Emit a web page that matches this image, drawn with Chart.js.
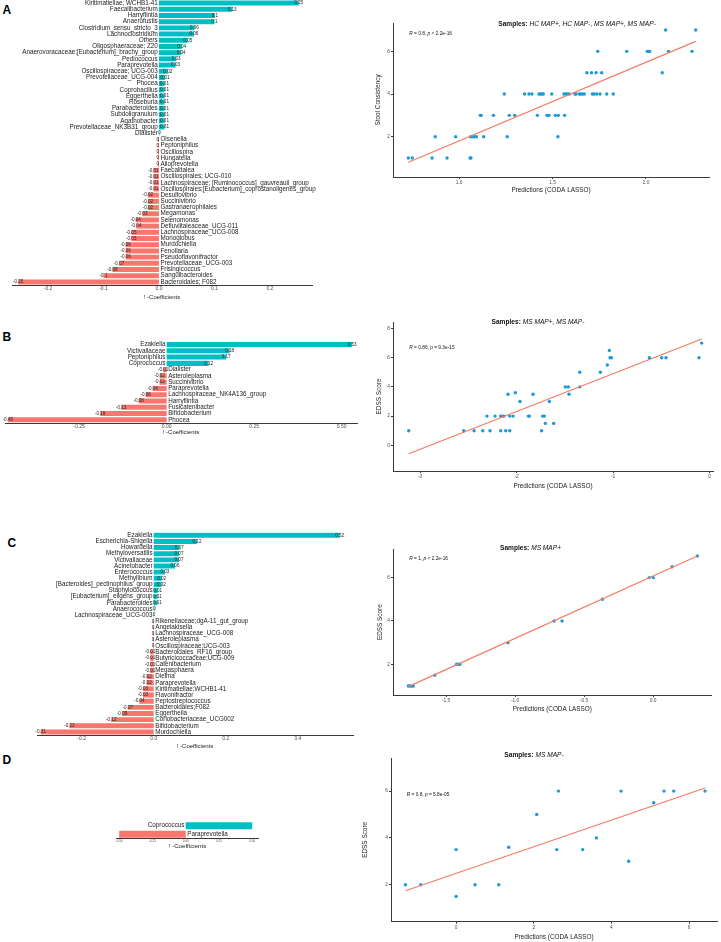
<!DOCTYPE html>
<html>
<head>
<meta charset="utf-8">
<title>CODA LASSO coefficients and predictions</title>
<script src="https://cdn.jsdelivr.net/npm/chart.js@4.4.0/dist/chart.umd.min.js"></script>
<style>
body { margin: 0; background: #fff; }
#page { position: relative; width: 721px; height: 942px; overflow: hidden; }
#page canvas { position: absolute; }
.tag { position: absolute; font: bold 12px "Liberation Sans", Arial, sans-serif; line-height: 12px; color: #000; }
</style>
</head>
<body>
<div id="page">
    <div class="tag" style="left:2.5px;top:3.5px">A</div>
    <div class="tag" style="left:2.5px;top:330.5px">B</div>
    <div class="tag" style="left:7.5px;top:536.5px">C</div>
    <div class="tag" style="left:2.5px;top:753.5px">D</div>
</div>
<script>
// ---- panel A: coefficients ----
var aBarLabels = ['Kiritimatiellae; WCHB1-41', 'Faecalibacterium', 'Harryflintia', 'Anaerofustis', 'Clostridium_sensu_stricto_3',
    'Lachnoclostridium', 'Others', 'Oligosphaeraceae; Z20', 'Anaerovoracaceae;[Eubacterium]_brachy_group', 'Pediococcus',
    'Paraprevotella', 'Oscillospiraceae; UCG-003', 'Prevotellaceae_UCG-004', 'Phocea', 'Coprobacillus', 'Eggerthella',
    'Roseburia', 'Parabacteroides', 'Subdoligranulum', 'Agathobacter', 'Prevotellaceae_NK3B31_group', 'Dialister',
    'Olsenella', 'Peptoniphilus', 'Oscillospira', 'Hungatella', 'Alloprevotella', 'Faecalitalea', 'Oscillospirales; UCG-010',
    'Lachnospiraceae; [Ruminococcus]_gauvreauii_group', 'Oscillospirales;[Eubacterium]_coprostanoligenes_group',
    'Desulfovibrio', 'Succinivibrio', 'Gastranaerophilales', 'Megamonas', 'Selenomonas', 'Defluviitaleaceae_UCG-011',
    'Lachnospiraceae_UCG-008', 'Monoglobus', 'Murdochiella', 'Fenollaria', 'Pseudoflavonifractor', 'Prevotellaceae_UCG-003',
    'Frisingicoccus', 'Sanguibacteroides', 'Bacteroidales; F082'];
var aBarValues = [0.252, 0.132, 0.101, 0.1, 0.064, 0.063, 0.052, 0.041, 0.04, 0.031, 0.03, 0.016, 0.011, 0.01, 0.01, 0.01,
    0.01, 0.01, 0.01, 0.01, 0.01, 0.001, -0.002, -0.002, -0.002, -0.002, -0.002, -0.01, -0.01, -0.01, -0.01, -0.02, -0.02,
    -0.02, -0.03, -0.042, -0.041, -0.05, -0.05, -0.06, -0.06, -0.06, -0.072, -0.084, -0.1, -0.254];
var aBarTicks = [-0.2, -0.1, 0, 0.1, 0.2];

// ---- panel A: predictions vs stool consistency ----
var aPredX = [0.729, 0.750, 0.856, 0.873, 0.936, 0.982, 1.059, 1.064, 1.062, 1.071, 1.082, 1.093, 1.114, 1.119, 1.132, 1.184,
    1.242, 1.258, 1.269, 1.298, 1.351, 1.374, 1.390, 1.419, 1.428, 1.435, 1.444, 1.451, 1.470, 1.481, 1.496, 1.515, 1.531,
    1.529, 1.565, 1.561, 1.570, 1.578, 1.590, 1.620, 1.626, 1.643, 1.651, 1.661, 1.670, 1.684, 1.709, 1.713, 1.722, 1.736,
    1.733, 1.742, 1.754, 1.763, 1.790, 1.825, 1.897, 2.007, 2.014, 2.020, 2.087, 2.105, 2.121, 2.246, 2.266];
var aScoreY = [1, 1, 1, 2, 1, 2, 1, 1, 2, 2, 2, 2, 3, 3, 2, 3, 4, 2, 3, 3, 4, 4, 4, 3, 4, 4, 4, 4, 3, 3, 4, 3, 3, 2, 3, 4, 4,
    4, 4, 4, 4, 4, 4, 4, 4, 5, 5, 4, 4, 4, 5, 6, 4, 5, 4, 4, 6, 6, 6, 6, 5, 7, 6, 6, 7];
var aFitX = [0.729, 2.266];
var aFitY = [0.80, 6.47];
var aScatXTicks = [1.0, 1.5, 2.0];
var aScatYTicks = [2, 4, 6];

// ---- panel B ----
var bBarLabels = ['Ezakiella', 'Victivallaceae', 'Peptoniphilus', 'Coprococcus', 'Dialister', 'Asteroleplasma', 'Succinivibrio',
    'Paraprevotella', 'Lachnospiraceae_NK4A136_group', 'Harryflintia', 'Fusicatenibacter', 'Bifidobacterium', 'Phocea'];
var bBarValues = [0.53, 0.18, 0.17, 0.12, -0.01, -0.02, -0.02, -0.04, -0.06, -0.08, -0.13, -0.19, -0.454];
var bBarTicks = [-0.25, 0, 0.25, 0.5];

var bPredX = [-3.117, -2.547, -2.440, -2.350, -2.306, -2.275, -2.223, -2.164, -2.164, -2.143, -2.130, -2.112, -2.070, -2.088,
    -2.070, -2.036, -2.012, -1.964, -1.877, -1.867, -1.829, -1.740, -1.729, -1.712, -1.701, -1.660, -1.615, -1.494, -1.463,
    -1.456, -1.345, -1.345, -1.131, -1.059, -1.038, -1.031, -1.017, -0.623, -0.496, -0.451, -0.109, -0.081];
var bScoreY = [1, 1, 1, 1, 2, 1, 2, 1, 2, 2, 2, 1, 1, 3.5, 2, 2, 3.6, 3, 2, 2, 3.5, 1, 2, 2, 1.5, 3, 1.5, 4, 4, 3.5, 4, 5, 5,
    5.5, 6.5, 6, 6, 6, 6, 6, 6, 7];
var bFitX = [-3.117, -0.081];
var bFitY = [-0.58, 7.28];
var bScatXTicks = [-3, -2, -1, 0];
var bScatYTicks = [0, 2, 4, 6, 8];

// ---- panel C ----
var cBarLabels = ['Ezakiella', 'Escherichia-Shigella', 'Howardella', 'Methyloversatilis', 'Victivallaceae', 'Acinetobacter',
    'Enterococcus', 'Methylibium', '[Bacteroides]_pectinophilus_group', 'Staphylococcus', '[Eubacterium]_eligens_group',
    'Parabacteroides', 'Anaerococcus', 'Lachnospiraceae_UCG-003', 'Rikenellaceae;dgA-11_gut_group', 'Angelakisella',
    'Lachnospiraceae_UCG-008', 'Asteroleplasma', 'Oscillospiraceae;UCG-003', 'Bacteroidales_RF16_group',
    'Butyricicoccaceae;UCG-009', 'Catenibacterium', 'Megasphaera', 'Dielma', 'Paraprevotella', 'Kiritimatiellae;WCHB1-41',
    'Flavonifractor', 'Peptostreptococcus', 'Bacteroidales;F082', 'Eggerthella', 'Coriobacteriaceae_UCG002',
    'Bifidobacterium', 'Murdochiella'];
var cBarValues = [0.516, 0.12, 0.071, 0.07, 0.07, 0.059, 0.031, 0.022, 0.021, 0.011, 0.01, 0.01, 0.002, 0.001, -0.002, -0.002,
    -0.002, -0.002, -0.002, -0.01, -0.01, -0.01, -0.01, -0.02, -0.02, -0.03, -0.03, -0.04, -0.072, -0.088, -0.118, -0.234, -0.314];
var cBarTicks = [-0.2, 0, 0.2, 0.4];

var cPredX = [-1.773, -1.761, -1.749, -1.737, -1.582, -1.423, -1.411, -1.399, -1.051, -0.717, -0.659, -0.367, -0.027, 0.002,
    0.138, 0.321];
var cScoreY = [1, 1, 1, 1, 1.5, 2, 2, 2, 3, 4, 4, 5, 6, 6, 6.5, 7];
var cFitX = [-1.773, 0.321];
var cFitY = [0.97, 7.0];
var cScatXTicks = [-1.5, -1.0, -0.5, 0.0];
var cScatYTicks = [2, 4, 6];

// ---- panel D ----
var dBarLabels = ['Coprococcus', 'Paraprevotella'];
var dBarValues = [0.5, -0.5];
var dBarTicks = [-0.5, -0.25, 0, 0.25, 0.5];

var dPredX = [-1.305, -0.910, 0, 0, 0.489, 1.099, 1.356, 2.077, 2.592, 2.635, 3.262, 3.614, 4.249, 4.446, 5.090, 5.356, 5.605, 6.412];
var dScoreY = [2, 2, 3.5, 1.5, 2, 2, 3.6, 5, 3.5, 6, 3.5, 4, 6, 3, 5.5, 6, 6, 6];
var dFitX = [-1.305, 6.412];
var dFitY = [1.74, 6.13];
var dScatXTicks = [0, 2, 4, 6];
var dScatYTicks = [2, 4, 6];

// ---- drawing ----
var FAMILY = '"Liberation Sans", Arial, Helvetica, sans-serif';
var POS = '#00BFC4', NEG = '#F8766D', DOT = '#1b9ad6', FIT = '#f77a61';
var INK = '#222', AXIS = '#3a3a3a', TICK = '#4d4d4d';
Chart.defaults.font.family = FAMILY;

function addCanvas(id, r) {
    var c = document.createElement('canvas');
    c.id = id;
    c.width = r.w;
    c.height = r.h;
    c.style.left = r.x + 'px';
    c.style.top = r.y + 'px';
    c.style.width = r.w + 'px';
    c.style.height = r.h + 'px';
    document.getElementById('page').appendChild(c);
    return c;
}

function fmtValue(v) {
    var r = Math.round(v * 100) / 100;
    return r === 0 ? '0' : String(r);
}

// taxon names next to the zero line and coefficient values at bar ends
var barText = {
    id: 'barText',
    afterDatasetsDraw: function(chart, args, o) {
        var ctx = chart.ctx;
        var zero = chart.scales.x.getPixelForValue(0);
        var labels = chart.data.labels, vals = chart.data.datasets[0].data;
        ctx.save();
        ctx.fillStyle = INK;
        ctx.textBaseline = 'middle';
        chart.getDatasetMeta(0).data.forEach(function(bar, i) {
            var v = vals[i];
            ctx.font = (labels[i] === 'Others' ? 'italic ' : '') + '6.3px ' + FAMILY;
            ctx.textAlign = v >= 0 ? 'right' : 'left';
            ctx.fillText(labels[i], v >= 0 ? zero - 1.2 : zero + 1.5, bar.y);
            if (o.values) {
                ctx.font = '4.6px ' + FAMILY;
                ctx.textAlign = 'center';
                ctx.fillText(fmtValue(v), bar.x, bar.y);
            }
        });
        ctx.restore();
    }
};

function drawRuns(ctx, runs, x, y, size) {
    runs.forEach(function(r) {
        ctx.font = r[0] + ' ' + size + 'px ' + FAMILY;
        ctx.fillText(r[1], x, y);
        x += ctx.measureText(r[1]).width;
    });
}

// panel title + correlation note
var scatterText = {
    id: 'scatterText',
    afterDraw: function(chart, args, o) {
        var ctx = chart.ctx;
        ctx.save();
        ctx.fillStyle = '#111';
        ctx.textBaseline = 'middle';
        ctx.textAlign = 'left';
        ctx.font = 'bold 6.6px ' + FAMILY;
        var w1 = ctx.measureText(o.head).width;
        ctx.font = 'italic 6.6px ' + FAMILY;
        var w2 = ctx.measureText(o.rest).width;
        var tx = o.titleX - o.rect.x - (w1 + w2) / 2;
        drawRuns(ctx, [['bold', o.head], ['italic', o.rest]], tx, o.titleY - o.rect.y, 6.6);
        drawRuns(ctx, [['italic', 'R'], ['normal', ' = ' + o.noteR + ', '], ['italic', 'p'], ['normal', ' ' + o.noteP]],
            o.noteX - o.rect.x, o.noteY - o.rect.y, 4.8);
        ctx.restore();
    }
};

function barChart(id, rect, area, labels, values, xMin, xMax, ticks, dec, tickSize, titleY, titleSize, showValues) {
    var cv = addCanvas(id, rect);
    var lh = titleSize * 1.2;
    new Chart(cv, {
        type: 'bar',
        data: {
            labels: labels,
            datasets: [{
                data: values,
                backgroundColor: values.map(function(v) { return v >= 0 ? POS : NEG; }),
                barPercentage: 0.8,
                categoryPercentage: 1
            }]
        },
        options: {
            indexAxis: 'y',
            responsive: false,
            animation: false,
            devicePixelRatio: 1,
            layout: { padding: { left: area.l - rect.x, right: rect.x + rect.w - area.r, top: area.t - rect.y, bottom: 0 } },
            plugins: { legend: { display: false }, tooltip: { enabled: false }, barText: { values: showValues } },
            scales: {
                y: { type: 'category', display: false },
                x: {
                    type: 'linear', min: xMin, max: xMax,
                    afterBuildTicks: function(s) { s.ticks = ticks.map(function(v) { return { value: v }; }); },
                    afterFit: function(s) { s.height = rect.y + rect.h - area.b; },
                    grid: { display: false, drawTicks: false },
                    border: { display: true, color: AXIS, width: 1 },
                    ticks: {
                        font: { size: tickSize }, color: TICK, padding: 1, maxRotation: 0, minRotation: 0, autoSkip: false,
                        callback: function(v) { return Number(v).toFixed(dec); }
                    },
                    title: {
                        display: true, text: '! -Coefficients', color: INK, font: { size: titleSize },
                        padding: { top: 0, bottom: rect.y + rect.h - titleY - lh / 2 }
                    }
                }
            }
        },
        plugins: [barText]
    });
}

function scatterChart(o) {
    var r = o.rect, a = o.area;
    var cv = addCanvas(o.id, r);
    var lh = 6.4 * 1.2;
    var pts = o.xs.map(function(x, i) { return { x: x, y: o.ys[i] }; });
    var fit = o.fx.map(function(x, i) { return { x: x, y: o.fy[i] }; });
    new Chart(cv, {
        type: 'scatter',
        data: {
            datasets: [
                { data: fit, showLine: true, borderColor: FIT, borderWidth: 1.2, pointRadius: 0 },
                { data: pts, pointRadius: 1.7, pointBackgroundColor: DOT, pointBorderWidth: 0 }
            ]
        },
        options: {
            responsive: false,
            animation: false,
            devicePixelRatio: 1,
            layout: { padding: { left: 0, top: a.t - r.y, right: r.x + r.w - a.r, bottom: 0 } },
            plugins: { legend: { display: false }, tooltip: { enabled: false }, scatterText: o },
            scales: {
                x: {
                    type: 'linear', min: o.xMin, max: o.xMax,
                    afterBuildTicks: function(s) { s.ticks = o.xTicks.map(function(v) { return { value: v }; }); },
                    afterFit: function(s) { s.height = r.y + r.h - a.b; },
                    grid: { display: true, drawOnChartArea: false, drawTicks: true, tickLength: 2, color: AXIS },
                    border: { display: true, color: AXIS, width: 1 },
                    ticks: {
                        font: { size: 4.8 }, color: TICK, padding: 1, maxRotation: 0, minRotation: 0, autoSkip: false,
                        callback: function(v) { return Number(v).toFixed(o.xDec); }
                    },
                    title: {
                        display: true, text: 'Predictions (CODA LASSO)', color: INK, font: { size: 6.4 },
                        padding: { top: 0, bottom: r.y + r.h - o.xTitleY - lh / 2 }
                    }
                },
                y: {
                    type: 'linear', min: o.yMin, max: o.yMax,
                    afterBuildTicks: function(s) { s.ticks = o.yTicks.map(function(v) { return { value: v }; }); },
                    afterFit: function(s) { s.width = a.l - r.x; },
                    grid: { display: true, drawOnChartArea: false, drawTicks: true, tickLength: 2, color: AXIS },
                    border: { display: true, color: AXIS, width: 1 },
                    ticks: { font: { size: 4.8 }, color: TICK, padding: 1, autoSkip: false },
                    title: {
                        display: true, text: o.yTitle, color: INK, font: { size: 6.4 },
                        padding: { top: o.yTitleX - r.x - lh / 2, bottom: 0 }
                    }
                }
            }
        },
        plugins: [scatterText]
    });
}

barChart('bar-a', { x: 0, y: 0, w: 360, h: 302 }, { l: 12, t: 0, r: 312, b: 285 }, aBarLabels, aBarValues,
    -0.265, 0.276, aBarTicks, 1, 5, 297.3, 6, true);
barChart('bar-b', { x: 0, y: 330, w: 360, h: 107 }, { l: 5, t: 341.4, r: 357, b: 423 }, bBarLabels, bBarValues,
    -0.462, 0.544, bBarTicks, 2, 5, 432, 6, true);
barChart('bar-c', { x: 0, y: 525, w: 360, h: 226 }, { l: 37, t: 532.2, r: 353, b: 735 }, cBarLabels, cBarValues,
    -0.324, 0.553, cBarTicks, 1, 5, 746, 6, true);
barChart('bar-d', { x: 0, y: 815, w: 360, h: 36 }, { l: 116.7, t: 821.5, r: 258.3, b: 838.5 }, dBarLabels, dBarValues,
    -0.519, 0.546, dBarTicks, 2, 3, 846.7, 6.2, false);

scatterChart({
    id: 'scat-a', rect: { x: 360, y: 12, w: 361, h: 185 }, area: { l: 393, t: 23, r: 709, b: 177 },
    xs: aPredX, ys: aScoreY, fx: aFitX, fy: aFitY, xMin: 0.647, xMax: 2.337, yMin: 0.111, yMax: 7.33,
    xTicks: aScatXTicks, yTicks: aScatYTicks, xDec: 1, yTitle: 'Stool Consistency', yTitleX: 378, xTitleY: 190.3,
    head: 'Samples:', rest: ' HC MAP+, HC MAP-, MS MAP+, MS MAP-', titleX: 577, titleY: 24,
    noteR: '0.8', noteP: '< 2.2e-16', noteX: 409.3, noteY: 34
});
scatterChart({
    id: 'scat-b', rect: { x: 360, y: 312, w: 361, h: 180 }, area: { l: 393, t: 322, r: 713, b: 471 },
    xs: bPredX, ys: bScoreY, fx: bFitX, fy: bFitY, xMin: -3.28, xMax: 0.036, yMin: -1.76, yMax: 8.445,
    xTicks: bScatXTicks, yTicks: bScatYTicks, xDec: 0, yTitle: 'EDSS Score', yTitleX: 379.3, xTitleY: 486.7,
    head: 'Samples:', rest: ' MS MAP+, MS MAP-', titleX: 538, titleY: 322.3,
    noteR: '0.86', noteP: '= 9.3e-15', noteX: 409.3, noteY: 347.3
});
scatterChart({
    id: 'scat-c', rect: { x: 360, y: 540, w: 361, h: 175 }, area: { l: 393, t: 549.3, r: 711.7, b: 695 },
    xs: cPredX, ys: cScoreY, fx: cFitX, fy: cFitY, xMin: -1.884, xMax: 0.425, yMin: 0.583, yMax: 7.307,
    xTicks: cScatXTicks, yTicks: cScatYTicks, xDec: 1, yTitle: 'EDSS Score', yTitleX: 380.7, xTitleY: 709.3,
    head: 'Samples:', rest: ' MS MAP+', titleX: 530.5, titleY: 548.3,
    noteR: '1', noteP: '< 2.2e-16', noteX: 409.3, noteY: 559
});
scatterChart({
    id: 'scat-d', rect: { x: 360, y: 748, w: 361, h: 194 }, area: { l: 391, t: 758, r: 718, b: 921.7 },
    xs: dPredX, ys: dScoreY, fx: dFitX, fy: dFitY, xMin: -1.676, xMax: 6.72, yMin: 0.419, yMax: 7.414,
    xTicks: dScatXTicks, yTicks: dScatYTicks, xDec: 0, yTitle: 'EDSS Score', yTitleX: 365, xTitleY: 937.3,
    head: 'Samples:', rest: ' MS MAP-', titleX: 534, titleY: 755,
    noteR: '0.8', noteP: '= 5.8e-05', noteX: 406.7, noteY: 794.7
});
</script>
</body>
</html>
